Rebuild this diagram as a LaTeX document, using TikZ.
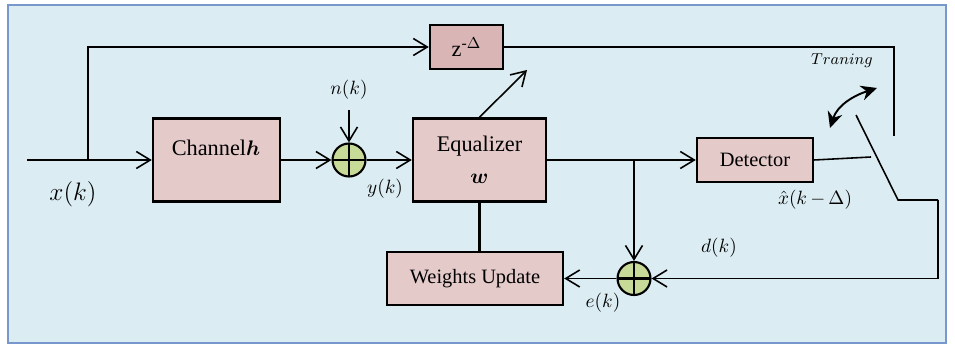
\documentclass[tikz,border=0pt]{standalone}
\usepackage{amsmath}
\usepackage{bm}
\usepackage{fontspec}
\setmainfont{Liberation Serif}
\usetikzlibrary{arrows.meta,positioning}

\definecolor{bgblue}{RGB}{219,237,243}
\definecolor{framecol}{RGB}{120,152,205}
\definecolor{boxpink}{RGB}{229,202,202}
\definecolor{delaypink}{RGB}{218,181,181}
\definecolor{sumgreen}{RGB}{200,218,152}

\begin{document}
\begin{tikzpicture}[
    x=0.02cm, y=-0.02cm,
    >={Straight Barb[length=2.8mm,width=3.4mm]},
    wire/.style={line width=0.9pt},
    box/.style={draw, rectangle, line width=1.4pt, fill=boxpink, inner sep=0pt, align=center},
    sumnode/.style={draw, circle, line width=1.2pt, fill=sumgreen, minimum size=0.66cm, inner sep=0pt,
        path picture={\draw[line width=1.2pt]
            (path picture bounding box.north) -- (path picture bounding box.south)
            (path picture bounding box.west) -- (path picture bounding box.east);}},
    lbl/.style={font=\fontsize{11}{13}\selectfont, inner sep=1pt},
    bigtxt/.style={font=\fontsize{12.7}{15}\selectfont},
    smalltxt/.style={font=\fontsize{11.6}{14}\selectfont}
]
    \useasboundingbox (0,0) rectangle (955,347);
    \draw[framecol, line width=1.2pt, fill=bgblue] (8,5) rectangle (946,343);

    % blocks
    \node[box, minimum width=2.54cm, minimum height=1.66cm] (chan) at (216.5,160) {};
    \node[bigtxt] (chantxt) at (216,148) {Channel$\bm{h}$};
    \node[sumnode] (sum1) at (349,160) {};
    \node[box, bigtxt, minimum width=2.66cm, minimum height=1.66cm] (eq) at (479.5,160) {Equalizer\\[3pt]$\bm{w}$};
    \node[box, bigtxt, fill=delaypink, minimum width=1.46cm, minimum height=0.88cm] (zdel) at (466.5,47) {z\textsuperscript{-$\Delta$}};
    \node[box, smalltxt, minimum width=2.32cm, minimum height=0.88cm] (det) at (755,160) {Detector};
    \node[box, smalltxt, minimum width=3.52cm, minimum height=1.06cm] (wu) at (475,278.5) {Weights Update};
    \node[sumnode] (sum2) at (634,278.5) {};

    % points
    \coordinate (in) at (27,160);
    \coordinate (br) at (88,160);
    \coordinate (noise) at (349,110);
    \coordinate (tap) at (634,160);
    \coordinate (adapt) at (527,70);
    \coordinate (sw1) at (871,157);
    \coordinate (sw2) at (894,136);
    \coordinate (blade) at (856,115);
    \coordinate (pivot) at (898,200);
    \coordinate (ret) at (938,200);

    % labels
    \node[lbl, font=\fontsize{15}{17}\selectfont] (xk) at (73,194) {$x(k)$};
    \node[lbl] (nk) at (349,90) {$n(k)$};
    \node[lbl] (yk) at (385,189) {$y(k)$};
    \node[lbl, font=\fontsize{10.5}{12}\selectfont] (xhat) at (815,200) {$\hat{x}(k\,{-}\,\Delta)$};
    \node[lbl] (dk) at (719,248) {$d(k)$};
    \node[lbl] (ek) at (603,303) {$e(k)$};
    \node[lbl, font=\fontsize{9}{11}\selectfont] (trn) at (842,61) {$Traning$};

    % connections
    \draw[wire, ->] (in) -- (chan.west);
    \draw[wire, ->] (br) |- (zdel.west);
    \draw[wire, ->] (chan.east) -- (sum1.west);
    \draw[wire, ->] (noise) -- (sum1.north);
    \draw[wire, ->] (sum1.east) -- (eq.west);
    \draw[wire, ->] (eq.north) -- (adapt);
    \draw[wire, ->] (eq.east) -- (det.west);
    \draw[wire, ->] (tap) -- (sum2.north);
    \draw[wire] (det.east) -- (sw1);
    \draw[wire] (zdel.east) -| (sw2);
    \draw[wire] (blade) -- (pivot) -- (ret);
    \draw[wire, ->] (ret) |- (sum2.east);
    \draw[wire, ->] (sum2.west) -- (wu.east);
    \draw[wire, line width=1.3pt] (eq.south) -- (eq.south |- wu.north);
    \draw[line width=1.1pt, {Stealth[length=3.2mm,width=3mm]}-{Stealth[length=3.2mm,width=3mm]}]
        (830,128) to[out=72,in=198] (877,88);
\end{tikzpicture}
\end{document}
